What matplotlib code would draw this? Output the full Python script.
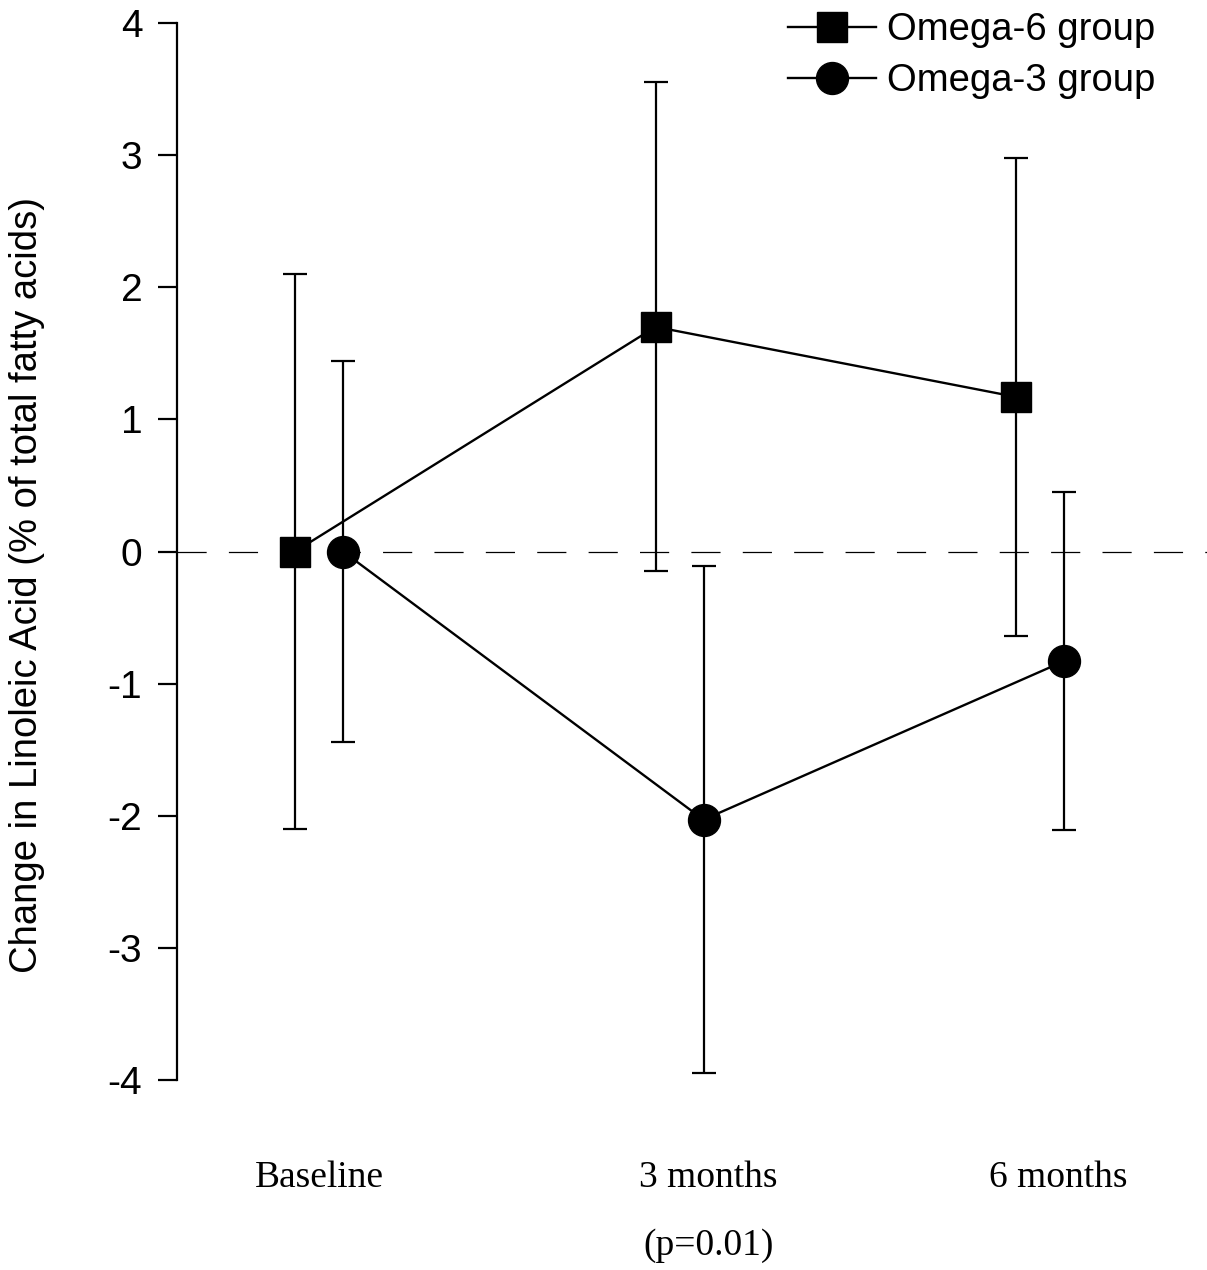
import numpy as np
import matplotlib.pyplot as plt

plt.rcParams['lines.scale_dashes'] = False

# time points
times = ["Baseline", "3 months\n(p=0.01)", "6 months"]
label_pos = [0.0, 1.08, 2.05]

# omega-6 group
o6_mean = [0.0, 1.70, 1.17]
o6_err = [2.10, 1.85, 1.81]

# omega-3 group
o3_mean = [0.0, -2.03, -0.83]
o3_err = [1.44, 1.92, 1.28]

x = np.arange(len(times))
off = 0.0665

fig = plt.figure(figsize=(12.07, 12.70), dpi=100)
ax = fig.add_axes([177 / 1207, (1270 - 1080) / 1270, 1 - 177 / 1207, (1080 - 23) / 1270])

ax.axhline(0, color='black', lw=0.9, dashes=(21, 16), zorder=1)

ax.errorbar(x - off, o6_mean, yerr=o6_err, fmt='none', ecolor='black', elinewidth=1.6,
            capsize=8.5, capthick=1.6, zorder=2, clip_on=False)
ax.errorbar(x + off, o3_mean, yerr=o3_err, fmt='none', ecolor='black', elinewidth=1.6,
            capsize=8.5, capthick=1.6, zorder=2, clip_on=False)
ax.plot(x - off, o6_mean, color='black', lw=1.7, marker='s', markersize=21,
        label='Omega-6 group', zorder=3, clip_on=False)
ax.plot(x + off, o3_mean, color='black', lw=1.7, marker='o', markersize=23,
        label='Omega-3 group', zorder=3, clip_on=False)

ax.set_xlim(-0.394, 2.463)
ax.set_ylim(-4, 4)
ax.set_yticks(range(-4, 5))
ax.set_yticklabels([str(v) for v in range(-4, 5)], fontsize=28, family='Liberation Sans')
ax.tick_params(axis='y', direction='out', length=14, width=1.6, pad=11)

ax.set_xticks(label_pos)
ax.set_xticklabels(times, fontsize=27, family='Liberation Serif', linespacing=2.25)
ax.tick_params(axis='x', length=0, pad=58)

for s in ['top', 'right', 'bottom']:
    ax.spines[s].set_visible(False)
ax.spines['left'].set_linewidth(1.6)

ax.set_ylabel('Change in Linoleic Acid (% of total fatty acids)', fontsize=27.5,
              family='Liberation Sans')
ax.yaxis.set_label_coords(-0.128, 0.468)

ax.legend(loc='upper right', bbox_to_anchor=(0.950, 1.010), frameon=False,
          prop={'family': 'Liberation Sans', 'size': 27.5}, handlelength=2.3,
          handletextpad=0.3, labelspacing=0.38, borderaxespad=0.0, borderpad=0.0)

fig.savefig('out.png', dpi=100)
